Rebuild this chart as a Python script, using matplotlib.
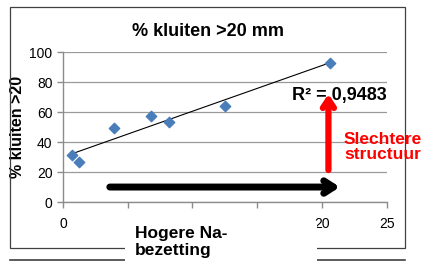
import numpy as np
import matplotlib
matplotlib.use("Agg")
import matplotlib.pyplot as plt
from matplotlib.patches import Rectangle

plt.rcParams['font.family'] = ['Liberation Sans', 'DejaVu Sans']

# data
na_bezetting = [0.7, 1.2, 3.9, 6.8, 8.2, 12.5, 20.6]
kluiten = [31.3, 26.8, 49.2, 57.4, 53.2, 64.3, 93.1]
r2_label = "R² = 0,9483"
x_ticks = [0, 5, 10, 15, 20, 25]
x_labels = ['0', '', '', '', '20', '25']   # 5-15 sit under the white box
y_ticks = [0, 20, 40, 60, 80, 100]

fig = plt.figure(figsize=(4.24, 2.61), dpi=100)
ax = fig.add_axes([0.1486, 0.226, 0.7634, 0.5736])

# outer chart frame
fig.patches.append(Rectangle((10/424, 1-248/261), 395/424, 241/261, transform=fig.transFigure,
                             fill=False, edgecolor='#404040', linewidth=0.9))
fig.lines.append(plt.Line2D([10/424, 405/424], [1-260/261, 1-260/261], transform=fig.transFigure,
                            color='#404040', linewidth=1.2))

ax.set_xlim(0, 25)
ax.set_ylim(0, 100)
ax.set_xticks(x_ticks)
ax.set_xticklabels(x_labels)
ax.set_yticks(y_ticks)
ax.grid(axis='y', color='#9a9a9a', linewidth=0.9)
ax.set_axisbelow(True)
for s in ['top', 'right']:
    ax.spines[s].set_visible(False)
for s in ['left', 'bottom']:
    ax.spines[s].set_color('#8c8c8c')
    ax.spines[s].set_linewidth(1.0)
ax.tick_params(colors='#8c8c8c', labelcolor='black', labelsize=10, length=4, width=1.0)
ax.tick_params(axis='x', pad=7)

# trend line
k, b = np.polyfit(na_bezetting, kluiten, 1)
xs = np.array([min(na_bezetting), max(na_bezetting)])
ax.plot(xs, k*xs + b, color='black', linewidth=0.8)
ax.scatter(na_bezetting, kluiten, marker='D', s=28, color='#4a7ebb', zorder=3)

# title centred on the chart frame
fig.text(207.5/424, 1-31/261, "% kluiten >20 mm", fontsize=13, fontweight='bold',
         ha='center', va='center')
ax.set_ylabel("% kluiten >20", fontsize=11.5, fontweight='bold', labelpad=3)

ax.text(25.0, 71, r2_label, fontsize=13, fontweight='bold', ha='right', va='center')

# black arrow: higher Na
ax.annotate('', xy=(21.6, 10), xytext=(3.4, 10),
            arrowprops=dict(arrowstyle='->,head_length=0.7,head_width=0.45', color='black', lw=5),
            annotation_clip=False)
# red arrow: worse structure
ax.annotate('', xy=(20.5, 74), xytext=(20.5, 19.5),
            arrowprops=dict(arrowstyle='->,head_length=0.6,head_width=0.4', color='red', lw=4.5),
            annotation_clip=False)

fig.text(344/424, 1-147/261, "Slechtere\nstructuur", color='red', fontsize=12.5,
         fontweight='bold', ha='left', va='center', linespacing=1.05)

# white box covering the x labels
fig.patches.append(Rectangle((125/424, 0), 192/424, 1-222/261, transform=fig.transFigure,
                             facecolor='white', edgecolor='none', zorder=5))
fig.text(135/424, 1-242/261, "Hogere Na-\nbezetting", fontsize=12.5, fontweight='bold',
         ha='left', va='center', linespacing=1.15, zorder=6)

fig.savefig("out.png", dpi=100)
